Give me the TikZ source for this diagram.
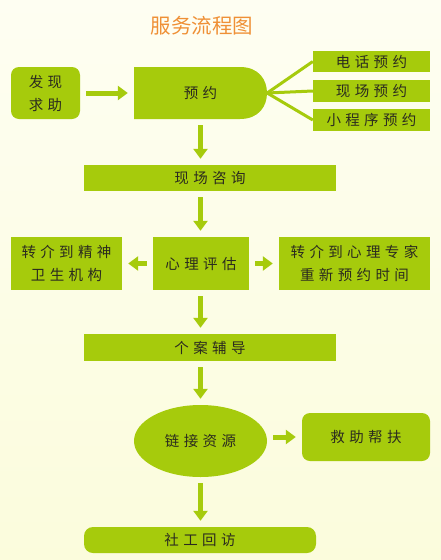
\documentclass[tikz,border=0pt]{standalone}
\usepackage{fontspec}
\newfontfamily\cjk{Noto Sans CJK SC}
\newfontfamily\cjks[LetterSpace=30]{Noto Sans CJK SC}
\usetikzlibrary{arrows.meta,shapes.geometric}
\definecolor{gr}{HTML}{A6CB0C}
\definecolor{txt}{HTML}{2B2B1F}
\definecolor{org}{HTML}{EF9036}
\definecolor{bgtop}{HTML}{FEFEF2}
\definecolor{bgbot}{HTML}{FBFCDC}
\begin{document}
\begin{tikzpicture}[x=1pt,y=-1pt,
  box/.style={fill=gr,draw=none,inner sep=0pt,text=txt,font=\cjks\fontsize{14.5}{23}\selectfont,align=center},
  rbox/.style={box,rounded corners=8pt},
  arr/.style={draw=gr,line width=5pt,-{Triangle[width=14pt,length=10pt]},shorten <=6pt,shorten >=6pt},
  link/.style={draw=gr,line width=3pt}]
\useasboundingbox (0,0) rectangle (441,560);
\shade[top color=bgtop,bottom color=bgbot] (0,0) rectangle (441,560);
\node[text=org,font=\cjk\fontsize{20.5}{24}\selectfont] (title) at (202,26) {服务流程图};
% top row
\node[rbox,minimum width=69pt,minimum height=52pt] (fx) at (45.5,93) {发现\\求助};
\fill[gr] (134,67) -- (240,67) .. controls (259,67) and (267,80) .. (267,93)
   .. controls (267,106) and (259,119) .. (240,119) -- (134,119) -- cycle;
\node[box,fill=none,minimum width=133pt,minimum height=52pt] (yy) at (200.5,93) {预约};
\node[box,minimum width=117pt,minimum height=21pt] (dh) at (371.5,61.5) {电话预约};
\node[box,minimum width=117pt,minimum height=22pt] (xc) at (371.5,91) {现场预约};
\node[box,minimum width=117pt,minimum height=22pt] (xcx) at (371.5,120) {小程序预约};
\draw[link] (dh.west) -- (yy.east) -- (xcx.west);
\draw[link] (yy.east) -- (xc.west);
\draw[arr] (fx) -- (yy);
% middle
\node[box,minimum width=252pt,minimum height=26pt] (zx) at (210,178) {现场咨询};
\node[box,minimum width=96pt,minimum height=53pt] (xl) at (201,263.5) {心理评估};
\node[box,minimum width=111pt,minimum height=53pt] (js) at (66.5,263.5) {转介到精神\\卫生机构};
\node[box,minimum width=151pt,minimum height=53pt] (zj) at (354.5,263.5) {转介到心理专家\\重新预约时间};
\node[box,minimum width=252pt,minimum height=27pt] (ga) at (210,347.5) {个案辅导};
\node[ellipse,fill=gr,minimum width=133pt,minimum height=72pt,inner sep=0pt,text=txt,font=\cjks\fontsize{14.5}{23}\selectfont] (lj) at (200.5,441) {链接资源};
\node[rbox,minimum width=128pt,minimum height=48pt] (jz) at (366,437) {救助帮扶};
\node[rbox,rounded corners=9pt,minimum width=232pt,minimum height=26pt] (sg) at (200,540) {社工回访};
% arrows
\draw[arr] (yy.south) -- (yy.south |- zx.north);
\draw[arr] (yy.south |- zx.south) -- (yy.south |- xl.north);
\draw[arr] (xl.west) -- (js.east);
\draw[arr] (xl.east) -- (zj.west);
\draw[arr] (yy.south |- xl.south) -- (yy.south |- ga.north);
\draw[arr] (yy.south |- ga.south) -- (lj.north);
\draw[arr] (lj.east |- jz.west) -- (jz.west);
\draw[arr] (lj.south) -- (lj.south |- sg.north);
\end{tikzpicture}
\end{document}
